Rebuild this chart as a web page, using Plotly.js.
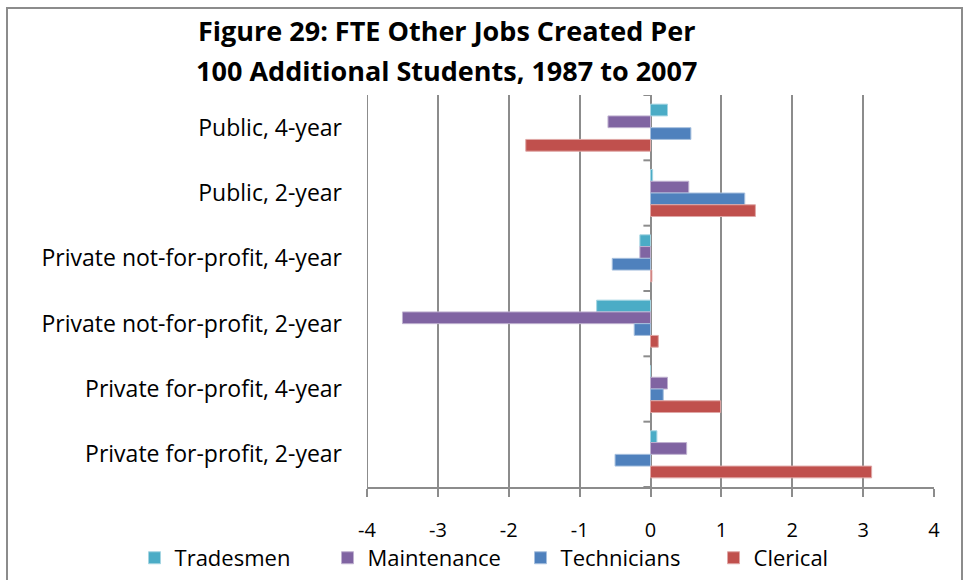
<!DOCTYPE html>
<html>
<head>
<meta charset="utf-8">
<script src="https://cdn.plot.ly/plotly-3.0.1.min.js"></script>
<style>
html,body{margin:0;padding:0;background:#fff;}
#wrap{position:relative;width:967px;height:580px;overflow:hidden;}
#chart{position:absolute;left:0;top:0;width:967px;height:580px;}
#frame{position:absolute;left:6px;top:7px;width:957px;height:600px;border:2px solid #8c8c8c;box-sizing:border-box;pointer-events:none;}
</style>
</head>
<body>
<div id="wrap"><div id="chart"></div><div id="frame"></div></div>
<script>
const categories = [
  "Public, 4-year",
  "Public, 2-year",
  "Private not-for-profit, 4-year",
  "Private not-for-profit, 2-year",
  "Private for-profit, 4-year",
  "Private for-profit, 2-year"
];
const seriesNames = ["Tradesmen", "Maintenance", "Technicians", "Clerical"];
const tradesmen   = [0.24, 0.03, -0.15, -0.76, 0.00, 0.09];
const maintenance = [-0.60, 0.54, -0.15, -3.50, 0.24, 0.51];
const technicians = [0.57, 1.33, -0.54, -0.23, 0.18, -0.50];
const clerical    = [-1.76, 1.48, 0.02, 0.11, 0.99, 3.12];
const xTicks = [-4, -3, -2, -1, 0, 1, 2, 3, 4];

const colors = ["#4BACC6", "#8064A2", "#4F81BD", "#C0504D"];
const lineColors = ["#a5d5e2", "#bfb1d0", "#a7c0de", "#dfa7a6"];
const FONT = "Open Sans, Noto Sans, sans-serif";
const GRID = "#8c8c8c";

const seriesData = [tradesmen, maintenance, technicians, clerical];
const traces = seriesData.map((vals, i) => ({
  type: "bar",
  orientation: "h",
  name: seriesNames[i],
  x: vals,
  y: categories,
  marker: {color: colors[i], line: {color: lineColors[i], width: 1}},
  hoverinfo: "x+y+name"
}));

const shapes = [];
// small tick marks on the zero line at category boundaries
for (let i = 0; i <= categories.length; i++) {
  shapes.push({
    type: "line", xref: "x", yref: "y",
    x0: -0.1, x1: 0, y0: i - 0.5, y1: i - 0.5,
    line: {color: GRID, width: 2}
  });
}
// gridline at the left range edge (Plotly omits it)
shapes.push({
  type: "line", xref: "x", yref: "paper",
  x0: xTicks[0], x1: xTicks[0], y0: 0, y1: 1,
  line: {color: GRID, width: 2}, layer: "below"
});

const layout = {
  width: 967, height: 580,
  paper_bgcolor: "rgba(0,0,0,0)",
  plot_bgcolor: "#fff",
  margin: {l: 367, r: 33, t: 95, b: 93, autoexpand: false},
  font: {family: FONT, size: 20, color: "#000"},
  title: {
    text: "<b><span style='font-size:27px'>Figure 29: FTE Other Jobs Created Per</span><br><span style='font-size:27px'>100 Additional Students, 1987 to 2007</span></b>",
    font: {family: FONT, size: 31, color: "#000"},
    xref: "container", x: 0.462, xanchor: "center",
    yref: "container", y: 0.93, yanchor: "top"
  },
  barmode: "group",
  bargap: 0.28,
  bargroupgap: 0,
  xaxis: {
    range: [-4, 4],
    tickvals: xTicks,
    ticktext: xTicks.map(String),
    showgrid: true, gridcolor: GRID, gridwidth: 2,
    zeroline: true, zerolinecolor: GRID, zerolinewidth: 2,
    showline: true, linecolor: GRID, linewidth: 2,
    ticks: "outside", ticklen: 8, tickwidth: 2, tickcolor: GRID,
    ticklabelstandoff: 16,
    tickfont: {family: FONT, size: 20, color: "#000"},
    fixedrange: true
  },
  yaxis: {
    type: "category",
    categoryorder: "array", categoryarray: categories,
    range: [categories.length - 0.5, -0.5],
    showgrid: false, zeroline: false, showline: false,
    ticks: "",
    ticklabelstandoff: 24,
    tickfont: {family: FONT, size: 23, color: "#000"},
    fixedrange: true
  },
  shapes: shapes,
  showlegend: true,
  legend: {
    orientation: "h",
    xref: "paper", yref: "paper",
    x: -0.41, xanchor: "left",
    y: -0.181, yanchor: "middle",
    font: {family: FONT, size: 22, color: "#000"},
    traceorder: "normal",
    itemwidth: 30,
    entrywidth: 148
  }
};

Plotly.newPlot("chart", traces, layout, {displayModeBar: false});
</script>
</body>
</html>
